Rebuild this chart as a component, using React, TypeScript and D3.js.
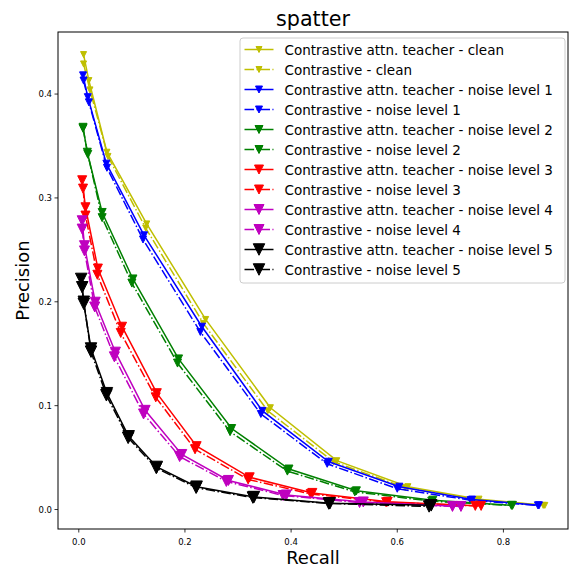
import React from 'react';
import * as d3 from 'd3';

// [recall, precision] pairs
const teacherClean = [[0.009, 0.438], [0.019, 0.413], [0.053, 0.344], [0.128, 0.275], [0.239, 0.183], [0.361, 0.098], [0.486, 0.047], [0.62, 0.022], [0.754, 0.010], [0.878, 0.004]];
const plainClean = [[0.009, 0.429], [0.021, 0.404], [0.055, 0.340], [0.126, 0.271], [0.235, 0.179], [0.356, 0.095], [0.48, 0.046], [0.615, 0.021], [0.75, 0.0095], [0.875, 0.004]];
const teacherN1 = [[0.008, 0.418], [0.017, 0.397], [0.052, 0.333], [0.123, 0.264], [0.232, 0.176], [0.346, 0.095], [0.471, 0.046], [0.604, 0.022], [0.741, 0.0096], [0.867, 0.004]];
const plainN1 = [[0.009, 0.413], [0.019, 0.392], [0.053, 0.329], [0.121, 0.260], [0.229, 0.171], [0.343, 0.092], [0.468, 0.044], [0.60, 0.020], [0.738, 0.009], [0.865, 0.004]];
const teacherN2 = [[0.008, 0.368], [0.016, 0.344], [0.044, 0.286], [0.102, 0.222], [0.188, 0.145], [0.288, 0.078], [0.396, 0.039], [0.523, 0.018], [0.667, 0.009], [0.817, 0.004]];
const plainN2 = [[0.008, 0.367], [0.017, 0.342], [0.044, 0.281], [0.100, 0.218], [0.186, 0.141], [0.285, 0.075], [0.393, 0.037], [0.52, 0.017], [0.665, 0.008], [0.815, 0.004]];
const teacherN3 = [[0.0064, 0.317], [0.0126, 0.291], [0.036, 0.232], [0.0815, 0.176], [0.147, 0.112], [0.222, 0.061], [0.322, 0.031], [0.44, 0.016], [0.582, 0.0075], [0.758, 0.0035]];
const plainN3 = [[0.008, 0.309], [0.0126, 0.283], [0.035, 0.226], [0.079, 0.170], [0.145, 0.108], [0.219, 0.058], [0.319, 0.029], [0.437, 0.015], [0.579, 0.007], [0.747, 0.0035]];
const teacherN4 = [[0.0064, 0.278], [0.0107, 0.254], [0.031, 0.1996], [0.069, 0.1515], [0.125, 0.0955], [0.194, 0.053], [0.282, 0.028], [0.391, 0.014], [0.536, 0.0073], [0.72, 0.003]];
const plainN4 = [[0.0064, 0.270], [0.0107, 0.249], [0.030, 0.195], [0.067, 0.147], [0.122, 0.092], [0.19, 0.051], [0.278, 0.027], [0.385, 0.0135], [0.529, 0.0067], [0.704, 0.003]];
const teacherN5 = [[0.0045, 0.222], [0.0094, 0.198], [0.023, 0.155], [0.053, 0.112], [0.094, 0.0705], [0.147, 0.041], [0.222, 0.022], [0.33, 0.012], [0.473, 0.006], [0.664, 0.004]];
const plainN5 = [[0.0064, 0.214], [0.0094, 0.200], [0.023, 0.152], [0.052, 0.110], [0.093, 0.069], [0.146, 0.040], [0.221, 0.021], [0.328, 0.0115], [0.471, 0.0058], [0.66, 0.003]];

const seriesData = [teacherClean, plainClean, teacherN1, plainN1, teacherN2, plainN2, teacherN3, plainN3, teacherN4, plainN4, teacherN5, plainN5];
const seriesLabels = [
  'Contrastive attn. teacher - clean',
  'Contrastive - clean',
  'Contrastive attn. teacher - noise level 1',
  'Contrastive - noise level 1',
  'Contrastive attn. teacher - noise level 2',
  'Contrastive - noise level 2',
  'Contrastive attn. teacher - noise level 3',
  'Contrastive - noise level 3',
  'Contrastive attn. teacher - noise level 4',
  'Contrastive - noise level 4',
  'Contrastive attn. teacher - noise level 5',
  'Contrastive - noise level 5',
];
const levelColors = ['#bfbf00', '#0000ff', '#008000', '#ff0000', '#bf00bf', '#000000'];
const markerSizes = [6, 7, 8, 9, 10, 11.5];
const xTicks = [0.0, 0.2, 0.4, 0.6, 0.8];
const yTicks = [0.0, 0.1, 0.2, 0.3, 0.4];

const W = 571, H = 571;
const L = 58, R = 568, T = 32, B = 529;
const FONT = 'DejaVu Sans, sans-serif';

function tri(cx: number, cy: number, s: number) {
  const h = s / 2;
  return `M${cx},${cy + h}L${cx - h},${cy - h}L${cx + h},${cy - h}Z`;
}

export default function App() {
  const all = seriesData.flat();
  const xe = d3.extent(all, (d) => d[0]) as [number, number];
  const ye = d3.extent(all, (d) => d[1]) as [number, number];
  const xp = (xe[1] - xe[0]) * 0.05, yp = (ye[1] - ye[0]) * 0.05;
  const x = d3.scaleLinear().domain([xe[0] - xp, xe[1] + xp]).range([L, R]);
  const y = d3.scaleLinear().domain([ye[0] - yp, ye[1] + yp]).range([B, T]);
  const line = d3.line<number[]>().x((d) => x(d[0])).y((d) => y(d[1]));
  const dashdot = '9.6,2.4,1.5,2.4';

  const legX = 240, legY = 38, legW = 325, legH = 245;
  const row0 = 49.5, rowH = 20;

  return (
    <svg width={W} height={H} style={{ position: 'absolute', left: 0, top: 0, background: '#fff' }} fontFamily={FONT}>
      <rect x={0} y={0} width={W} height={H} fill="#fff" />
      <defs>
        <clipPath id="plotclip"><rect x={L} y={T} width={R - L} height={B - T} /></clipPath>
      </defs>
      <g clipPath="url(#plotclip)">
        {seriesData.map((s, i) => {
          const lvl = Math.floor(i / 2);
          const c = levelColors[lvl];
          const ms = markerSizes[lvl];
          return (
            <g key={i}>
              <path d={line(s) || ''} fill="none" stroke={c} strokeWidth={1.5} strokeDasharray={i % 2 ? dashdot : undefined} />
              {s.map((d, j) => (
                <path key={j} d={tri(x(d[0]), y(d[1]), ms)} fill={c} stroke={c} strokeWidth={1} />
              ))}
            </g>
          );
        })}
      </g>
      {/* spines */}
      <rect x={L} y={T} width={R - L} height={B - T} fill="none" stroke="#000" strokeWidth={1} />
      {/* x ticks */}
      {xTicks.map((t) => (
        <g key={'x' + t}>
          <line x1={x(t)} x2={x(t)} y1={B} y2={B + 3.5} stroke="#000" strokeWidth={0.8} />
          <text x={x(t)} y={B + 16} fontSize={8.5} textAnchor="middle" fill="#000">{t.toFixed(1)}</text>
        </g>
      ))}
      {yTicks.map((t) => (
        <g key={'y' + t}>
          <line x1={L - 3.5} x2={L} y1={y(t)} y2={y(t)} stroke="#000" strokeWidth={0.8} />
          <text x={L - 6} y={y(t) + 3} fontSize={8.5} textAnchor="end" fill="#000">{t.toFixed(1)}</text>
        </g>
      ))}
      <text x={(L + R) / 2} y={26} fontSize={20.7} textAnchor="middle" fill="#000">spatter</text>
      <text x={(L + R) / 2} y={564} fontSize={18} textAnchor="middle" fill="#000">Recall</text>
      <text transform={`translate(29,${(T + B) / 2}) rotate(-90)`} fontSize={18} textAnchor="middle" fill="#000">Precision</text>
      {/* legend */}
      <rect x={legX} y={legY} width={legW} height={legH} rx={3} fill="#fff" fillOpacity={0.8} stroke="#cccccc" strokeWidth={1} />
      {seriesLabels.map((lab, i) => {
        const lvl = Math.floor(i / 2);
        const c = levelColors[lvl];
        const cy = row0 + i * rowH;
        return (
          <g key={lab}>
            <line x1={244.5} x2={273.5} y1={cy} y2={cy} stroke={c} strokeWidth={1.5} strokeDasharray={i % 2 ? dashdot : undefined} />
            <path d={tri(259, cy, markerSizes[lvl])} fill={c} stroke={c} strokeWidth={1} />
            <text x={284.5} y={cy + 5} fontSize={13.5} fill="#000">{lab}</text>
          </g>
        );
      })}
    </svg>
  );
}
